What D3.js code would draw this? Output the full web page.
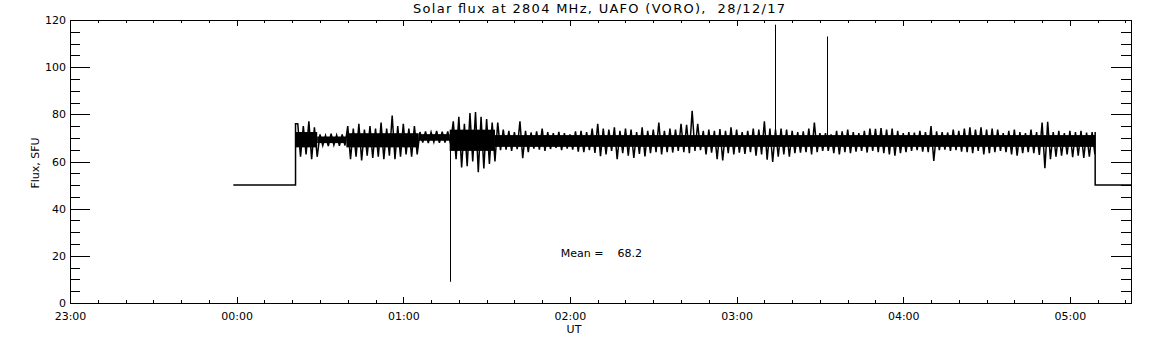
<!DOCTYPE html>
<html>
<head>
<meta charset="utf-8">
<script src="https://cdn.jsdelivr.net/npm/d3@7"></script>
<style>
  body { margin: 0; background: #fff; }
  svg text { font-family: "DejaVu Sans", sans-serif; font-size: 11px; fill: #000; }
  .axis path, .axis line { stroke: #000; shape-rendering: crispEdges; }
</style>
</head>
<body>
<svg id="chart" width="1152" height="345"></svg>
<script>
// time in minutes after 00:00 UT
const tickMinutes = [-60, 0, 60, 120, 180, 240, 300];
const tickLabels = ["23:00", "00:00", "01:00", "02:00", "03:00", "04:00", "05:00"];
const fluxTicks = [0, 20, 40, 60, 80, 100, 120];

// sample times (2 min bins), max and min flux in each bin (SFU)
const sampleMin = [22, 24, 26, 28, 30, 32, 34, 36, 38, 40, 42, 44, 46, 48, 50, 52, 54, 56, 58, 60, 62, 64,
  66, 68, 70, 72, 74, 76, 78, 80, 82, 84, 86, 88, 90, 92, 94, 96, 98, 100, 102, 104, 106, 108, 110,
  112, 114, 116, 118, 120, 122, 124, 126, 128, 130, 132, 134, 136, 138, 140, 142, 144, 146, 148, 150,
  152, 154, 156, 158, 160, 162, 164, 166, 168, 170, 172, 174, 176, 178, 180, 182, 184, 186, 188, 190,
  192, 194, 196, 198, 200, 202, 204, 206, 208, 210, 212, 214, 216, 218, 220, 222, 224, 226, 228, 230,
  232, 234, 236, 238, 240, 242, 244, 246, 248, 250, 252, 254, 256, 258, 260, 262, 264, 266, 268, 270,
  272, 274, 276, 278, 280, 282, 284, 286, 288, 290, 292, 294, 296, 298, 300, 302, 304, 306, 308];

const fluxHi = [76, 75, 77, 74.5, 71.5, 71, 71.8, 71.2, 71.5, 75, 74, 76, 73.5, 75, 74, 76.5, 74, 79.5, 75, 76, 74, 75,
  72.5, 72.8, 72.4, 73, 72.6, 72.8, 77, 79, 76, 80.5, 81, 79, 78, 76.5, 76.5, 73.5, 73, 72.5, 77, 73, 72.3, 72.8, 74,
  72.5, 72, 72.6, 72, 71.5, 72.8, 73, 72.5, 74, 76, 74, 73.5, 74.5, 73, 74, 73.5, 72.5, 74.5, 73, 73.5,
  76.5, 73, 74, 73.5, 76, 75.5, 81.5, 76, 73, 73.5, 73, 73.8, 73, 74.5, 73.5, 72.5, 73, 74, 73.5, 77,
  74, 73.5, 74, 73.5, 73, 72.5, 72.8, 74, 76.5, 72, 72, 71.5, 73, 72.8, 73.5, 72.5, 72, 73, 74, 73.8,
  74.2, 73.5, 74, 73, 72, 72.5, 72.2, 73, 72.5, 75, 72.8, 72.5, 72.3, 73.5, 73, 74, 74.5, 73.5, 74.5, 73.5,
  74, 73.5, 72, 73, 73.5, 72.5, 72, 73.5, 72.5, 76.5, 76.8, 72.5, 73, 72, 73, 72.5, 73, 72.3, 72.5];

const fluxLo = [62, 63, 61, 62, 66.8, 66.5, 67, 66.6, 66.8, 61, 62, 60.5, 62.5, 61.5, 62, 61, 62.5, 61, 62, 63, 62, 63,
  68, 67.8, 68.2, 67.9, 68, 67.6, 61, 57.5, 58, 60, 55.5, 57, 59, 60, 64.8, 65, 64.5, 65.2, 61.4, 64, 65.5, 65, 64.5,
  65.3, 65.8, 64.8, 65.5, 65, 64.2, 64, 64.8, 63.6, 62.3, 63, 64.5, 61, 63.5, 62.5, 61.5, 63.2, 62.2, 63.5, 64,
  63, 64, 63.8, 64.5, 64, 63.5, 64.5, 64.8, 63, 63.8, 61, 60.5, 63.5, 63, 63.8, 63.2, 64, 62.5, 63, 60.8,
  59.8, 62, 63, 62, 63.5, 63.8, 64, 63, 64, 64.5, 64.5, 63.5, 63, 64, 63.5, 64.2, 64.5, 63.8, 64.5, 64,
  63.5, 63, 62.5, 63.5, 64, 64.5, 64.8, 64.2, 64, 60.2, 64.8, 65, 64.5, 64.8, 64.2, 64, 63.5, 64.5, 63, 63.5,
  64, 64.5, 64, 63, 62.5, 63.5, 64, 63.5, 62.8, 57.2, 61, 62, 62.5, 63, 61.8, 62.5, 61.5, 62, 63];

// solid core of the trace: start, end, low, high
const coreStart = [21.2, 29, 39.5, 65.5, 76.7, 93];
const coreEnd = [29, 39.5, 65.5, 76.7, 93, 309.1];
const coreLo = [66, 67.8, 66, 68.8, 64.5, 66.2];
const coreHi = [72.5, 70.6, 72, 71.6, 73.5, 71.2];

// isolated spikes
const spikeMin = [76.7, 193.9, 212.6];
const spikeBase = [69, 70, 69];
const spikeTop = [9, 118, 113];

// receiver off level before and after the session
const offFlux = 50;
const offBefore = [-1.2, 21.2];
const offAfter = [309.1, 322];

const meanFlux = 68.2;

const dim = { width: 1152, height: 345 };
const pad = { left: 70, right: 21, top: 20, bottom: 42 };
const innerW = dim.width - pad.left - pad.right;
const innerH = dim.height - pad.top - pad.bottom;

const x = d3.scaleLinear().domain([-60, 322]).range([0, innerW]);
const y = d3.scaleLinear().domain([0, 120]).range([innerH, 0]);

const svg = d3.select("#chart");
svg.append("rect").attr("width", dim.width).attr("height", dim.height).attr("fill", "#fff");

const g = svg.append("g").attr("transform", `translate(${pad.left},${pad.top})`);

// ---- data
const plot = g.append("g").attr("class", "trace");

plot.selectAll(".core")
  .data(coreStart)
  .enter()
  .append("rect")
  .attr("class", "core")
  .attr("x", (d) => x(d))
  .attr("width", (d, i) => x(coreEnd[i]) - x(d))
  .attr("y", (d, i) => y(coreHi[i]))
  .attr("height", (d, i) => y(coreLo[i]) - y(coreHi[i]))
  .attr("fill", "#000");

let pts = [[offBefore[0], offFlux], [offBefore[1], offFlux], [offBefore[1], fluxHi[0]]];
sampleMin.forEach((t, i) => {
  pts.push([t, fluxHi[i]]);
  pts.push([t + 1, fluxLo[i]]);
});
pts.push([offAfter[0], fluxHi[fluxHi.length - 1]]);
pts.push([offAfter[0], offFlux]);
pts.push([offAfter[1], offFlux]);

plot.append("path")
  .datum(pts)
  .attr("fill", "none")
  .attr("stroke", "#000")
  .attr("stroke-width", 1.5)
  .attr("stroke-linejoin", "miter")
  .attr("d", d3.line().x((d) => x(d[0])).y((d) => y(d[1])));

plot.selectAll(".spike")
  .data(spikeMin)
  .enter()
  .append("line")
  .attr("class", "spike")
  .attr("x1", (d) => Math.round(x(d)) + 0.5)
  .attr("x2", (d) => Math.round(x(d)) + 0.5)
  .attr("y1", (d, i) => y(spikeBase[i]))
  .attr("y2", (d, i) => y(spikeTop[i]))
  .attr("stroke", "#000")
  .attr("stroke-width", 1);

// ---- axes
const minorX = d3.range(-60, 330, 10).filter((d) => d <= 322);
const minorY = d3.range(0, 125, 5);

const addAxis = (axis, tr) => {
  const a = g.append("g").attr("class", "axis").attr("transform", tr).call(axis);
  a.select(".domain").remove();
  return a;
};

addAxis(d3.axisBottom(x).tickValues(minorX).tickSize(-3).tickFormat(""), `translate(0,${innerH})`);
addAxis(d3.axisBottom(x).tickValues(tickMinutes).tickSize(-6).tickPadding(9)
  .tickFormat((d, i) => tickLabels[i]), `translate(0,${innerH})`);
addAxis(d3.axisTop(x).tickValues(minorX).tickSize(-3).tickFormat(""), "translate(0,0)");
addAxis(d3.axisTop(x).tickValues(tickMinutes).tickSize(-6).tickFormat(""), "translate(0,0)");

addAxis(d3.axisLeft(y).tickValues(minorY).tickSize(-10).tickFormat(""), "translate(0,0)");
addAxis(d3.axisLeft(y).tickValues(fluxTicks).tickSize(-20).tickPadding(4), "translate(0,0)");
addAxis(d3.axisRight(y).tickValues(minorY).tickSize(-10).tickFormat(""), `translate(${innerW},0)`);
addAxis(d3.axisRight(y).tickValues(fluxTicks).tickSize(-20).tickFormat(""), `translate(${innerW},0)`);

g.selectAll(".axis text").style("font-size", "11px").attr("fill", "#000");

g.append("rect")
  .attr("x", 0.5).attr("y", 0.5)
  .attr("width", innerW).attr("height", innerH)
  .attr("fill", "none").attr("stroke", "#000")
  .style("shape-rendering", "crispEdges");

// ---- texts
svg.append("text")
  .attr("x", 599)
  .attr("y", 13)
  .attr("text-anchor", "middle")
  .attr("textLength", 372)
  .attr("lengthAdjust", "spacing")
  .style("font-size", "13px")
  .style("white-space", "pre")
  .text("Solar flux at 2804 MHz, UAFO (VORO),  28/12/17");

svg.append("text")
  .attr("x", 574)
  .attr("y", 333)
  .attr("text-anchor", "middle")
  .text("UT");

svg.append("text")
  .attr("transform", "translate(39,163)rotate(-90)")
  .attr("text-anchor", "middle")
  .text("Flux, SFU");

g.append("text")
  .attr("x", x(116.7))
  .attr("y", y(19.7))
  .style("white-space", "pre")
  .text("Mean =    " + meanFlux.toFixed(1));
</script>
</body>
</html>
